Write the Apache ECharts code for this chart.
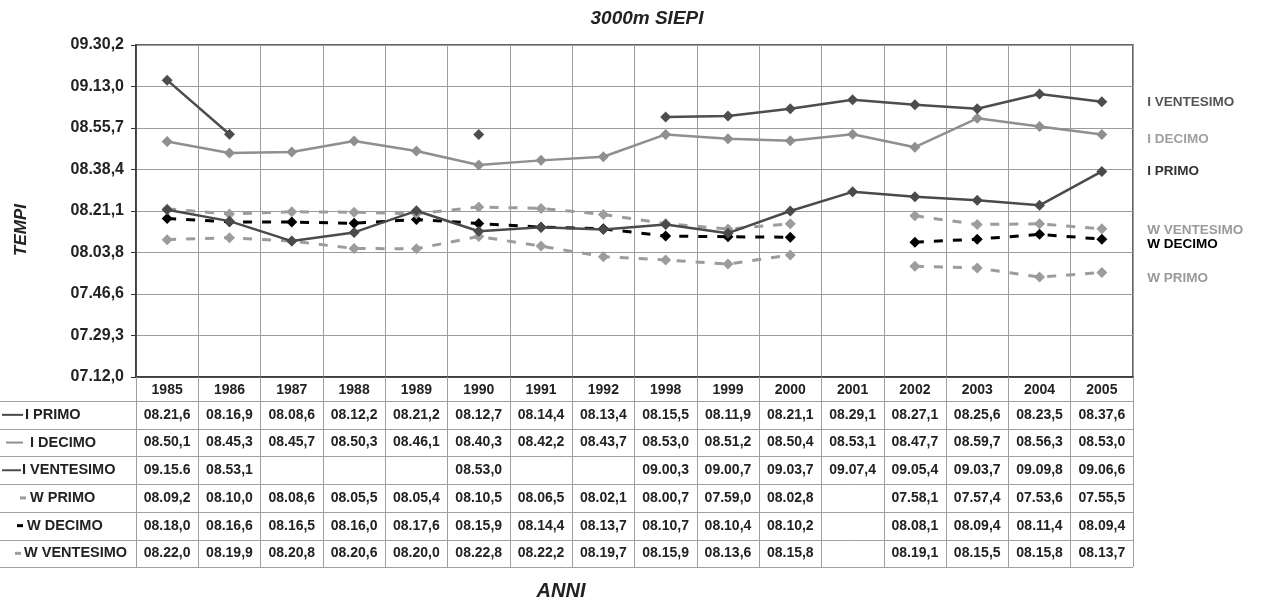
<!DOCTYPE html>
<html>
<head>
<meta charset="utf-8">
<script src="https://cdn.jsdelivr.net/npm/echarts@6/dist/echarts.min.js"></script>
<style>
  html, body { margin: 0; padding: 0; background: #fff; }
  #chart { width: 1263px; height: 601px; }
</style>
</head>
<body>
<div id="chart"></div>
<script>
// Years on the category axis (and table header)
const years = ['1985', '1986', '1987', '1988', '1989', '1990', '1991', '1992',
               '1998', '1999', '2000', '2001', '2002', '2003', '2004', '2005'];

// Times as printed in the table (min.sec,tenths); '' = no result
const iPrimo     = ['08.21,6','08.16,9','08.08,6','08.12,2','08.21,2','08.12,7','08.14,4','08.13,4','08.15,5','08.11,9','08.21,1','08.29,1','08.27,1','08.25,6','08.23,5','08.37,6'];
const iDecimo    = ['08.50,1','08.45,3','08.45,7','08.50,3','08.46,1','08.40,3','08.42,2','08.43,7','08.53,0','08.51,2','08.50,4','08.53,1','08.47,7','08.59,7','08.56,3','08.53,0'];
const iVentesimo = ['09.15.6','08.53,1','','','','08.53,0','','','09.00,3','09.00,7','09.03,7','09.07,4','09.05,4','09.03,7','09.09,8','09.06,6'];
const wPrimo     = ['08.09,2','08.10,0','08.08,6','08.05,5','08.05,4','08.10,5','08.06,5','08.02,1','08.00,7','07.59,0','08.02,8','','07.58,1','07.57,4','07.53,6','07.55,5'];
const wDecimo    = ['08.18,0','08.16,6','08.16,5','08.16,0','08.17,6','08.15,9','08.14,4','08.13,7','08.10,7','08.10,4','08.10,2','','08.08,1','08.09,4','08.11,4','08.09,4'];
const wVentesimo = ['08.22,0','08.19,9','08.20,8','08.20,6','08.20,0','08.22,8','08.22,2','08.19,7','08.15,9','08.13,6','08.15,8','','08.19,1','08.15,5','08.15,8','08.13,7'];

// Y range in seconds: 7'12"0 .. 9'30"24, step 17.28 s
const Y_MIN = 432, Y_MAX = 570.24, Y_STEP = 17.28;

const FONT = '"Liberation Sans", Arial, sans-serif';

function toSeconds(s) {
  if (!s) return null;
  const m = s.match(/^(\d+)\.(\d+)[.,](\d)$/);
  return +m[1] * 60 + +m[2] + +m[3] / 10;
}
function fmtTime(v) {
  const t = Math.round(v * 10);
  const min = Math.floor(t / 600);
  const rest = t - min * 600;
  const sec = Math.floor(rest / 10);
  const d = rest % 10;
  return String(min).padStart(2, '0') + '.' + String(sec).padStart(2, '0') + ',' + d;
}

// Series look: colour, dash, side label tweak, table key
const seriesDefs = [
  { name: 'I PRIMO',     raw: iPrimo,     color: '#4a4a4a', dashed: false, labelColor: '#333333', dy: 0,  keyX: [2, 23],  textX: 25 },
  { name: 'I DECIMO',    raw: iDecimo,    color: '#8f8f8f', dashed: false, labelColor: '#a0a0a0', dy: 5,  keyX: [6, 23],  textX: 30 },
  { name: 'I VENTESIMO', raw: iVentesimo, color: '#4d4d4d', dashed: false, labelColor: '#555555', dy: 1,  keyX: [2, 21],  textX: 22 },
  { name: 'W PRIMO',     raw: wPrimo,     color: '#9c9c9c', dashed: true,  labelColor: '#9a9a9a', dy: 6,  keyX: [20, 26], textX: 30 },
  { name: 'W DECIMO',    raw: wDecimo,    color: '#000000', dashed: true,  labelColor: '#000000', dy: 5,  keyX: [17, 23], textX: 27 },
  { name: 'W VENTESIMO', raw: wVentesimo, color: '#9c9c9c', dashed: true,  labelColor: '#9a9a9a', dy: 1,  keyX: [15, 21], textX: 24 }
];

const chart = echarts.init(document.getElementById('chart'), null, { renderer: 'canvas' });

const series = seriesDefs.map(def => {
  const vals = def.raw.map(toSeconds);
  const last = vals.length - 1;
  return {
    type: 'line',
    name: def.name,
    data: vals.map((v, i) => i === last ? {
      value: v,
      label: {
        show: true, position: 'right', distance: 40,
        formatter: def.name, offset: [0, def.dy],
        color: def.labelColor, fontFamily: FONT, fontSize: 13.5, fontWeight: 'bold'
      }
    } : v),
    symbol: 'diamond',
    symbolSize: 11,
    showSymbol: true,
    showAllSymbol: true,
    connectNulls: false,
    z: def.dashed ? 2 : 3,
    lineStyle: {
      color: def.color,
      width: def.dashed ? 3 : 2.5,
      type: def.dashed ? [9, 10] : 'solid'
    },
    itemStyle: { color: def.color }
  };
});

const option = {
  animation: false,
  backgroundColor: '#ffffff',
  title: [{
    text: '3000m SIEPI', left: 642, top: 4, textAlign: 'center',
    textStyle: { fontFamily: FONT, fontSize: 19, fontWeight: 'bold', fontStyle: 'italic', color: '#222' }
  }, {
    text: 'ANNI', left: 556, top: 576, textAlign: 'center',
    textStyle: { fontFamily: FONT, fontSize: 20, fontWeight: 'bold', fontStyle: 'italic', color: '#222' }
  }],
  grid: {
    left: 136, right: 130, top: 45, height: 332,
    show: true, borderColor: '#333', borderWidth: 1.5, containLabel: false
  },
  xAxis: {
    type: 'category',
    data: years,
    boundaryGap: true,
    axisLine: { show: true, lineStyle: { color: '#333', width: 1.5 } },
    axisTick: { show: true, interval: 0, length: 190, lineStyle: { color: '#a0a0a0', width: 1 } },
    axisLabel: {
      interval: 0, margin: 6,
      fontFamily: FONT, fontSize: 14, fontWeight: 'bold', color: '#222'
    },
    splitLine: { show: true, interval: 0, lineStyle: { color: '#9c9c9c', width: 1 } }
  },
  yAxis: {
    type: 'value',
    min: Y_MIN, max: Y_MAX, interval: Y_STEP,
    axisLine: { show: true, lineStyle: { color: '#333', width: 1.5 } },
    axisTick: { show: true, length: 5, lineStyle: { color: '#333' } },
    axisLabel: {
      formatter: v => fmtTime(v), margin: 12,
      fontFamily: FONT, fontSize: 16, fontWeight: 'bold', color: '#222'
    },
    splitLine: { show: true, lineStyle: { color: '#9c9c9c', width: 1 } }
  },
  series: series
};

chart.setOption(option);

// Data table under the plot, placed on the category axis positions
function buildTable() {
  const xs = years.map((y, i) => chart.convertToPixel({ xAxisIndex: 0 }, i));
  const colW = xs[1] - xs[0];
  const right = xs[xs.length - 1] + colW / 2;
  const bottomY = chart.convertToPixel({ yAxisIndex: 0 }, Y_MIN);
  const headerH = 24;
  const rowH = 27.7;
  const top = bottomY + headerH;
  const g = [];

  for (let k = 0; k <= seriesDefs.length; k++) {
    const y = Math.round(top + k * rowH) + 0.5;
    g.push({
      type: 'line', silent: true,
      shape: { x1: 0, y1: y, x2: right, y2: y },
      style: { stroke: '#a0a0a0', lineWidth: 1 }
    });
  }

  seriesDefs.forEach((def, r) => {
    const cy = top + (r + 0.5) * rowH;
    // legend key
    g.push({
      type: 'line', silent: true,
      shape: { x1: def.keyX[0], y1: cy, x2: def.keyX[1], y2: cy },
      style: { stroke: def.color, lineWidth: def.dashed ? 3 : 2 }
    });
    g.push({
      type: 'text', silent: true,
      style: {
        text: def.name, x: def.textX, y: cy,
        align: 'left', verticalAlign: 'middle',
        fontFamily: FONT, fontSize: 14.5, fontWeight: 'bold', fill: '#222'
      }
    });
    def.raw.forEach((s, i) => {
      if (!s) return;
      g.push({
        type: 'text', silent: true,
        style: {
          text: s, x: xs[i], y: cy,
          align: 'center', verticalAlign: 'middle',
          fontFamily: FONT, fontSize: 14, fontWeight: 'bold', fill: '#222'
        }
      });
    });
  });

  // vertical axis title
  g.push({
    type: 'text', silent: true,
    x: 21, y: 230, rotation: Math.PI / 2,
    style: {
      text: 'TEMPI', x: 0, y: 0, align: 'center', verticalAlign: 'middle',
      fontFamily: FONT, fontSize: 17, fontWeight: 'bold', fontStyle: 'italic', fill: '#222'
    }
  });

  chart.setOption({ graphic: g });
}
buildTable();
</script>
</body>
</html>
